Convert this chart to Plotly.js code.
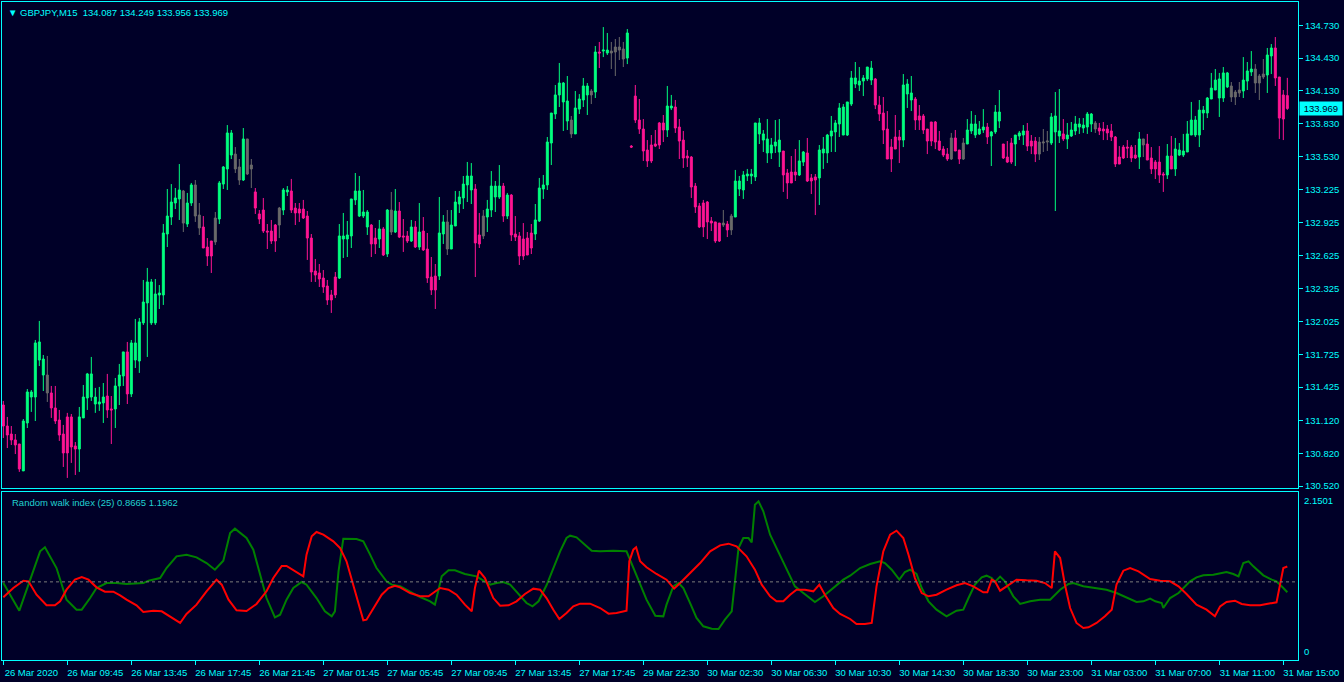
<!DOCTYPE html>
<html><head><meta charset="utf-8">
<script src="https://cdn.plot.ly/plotly-3.0.1.min.js"></script>
<style>html,body{margin:0;padding:0;background:#000028;overflow:hidden}#chart{width:1344px;height:682px}</style>
</head><body><div id="chart"></div>
<script>
const symbolTitle = 'GBPJPY,M15';

const barOpen = [
131.261,131.069,130.996,130.942,130.905,130.659,131.097,131.334,131.334,131.672,
131.535,131.535,131.371,131.234,131.124,130.996,131.152,131.152,130.887,130.859,
131.143,131.325,131.334,131.270,131.270,131.280,131.343,131.225,131.225,131.435,
131.526,131.746,131.362,131.672,131.663,132.011,132.193,132.011,132.011,132.266,
132.266,132.823,132.978,133.106,133.143,133.216,132.914,133.106,133.271,132.996,
132.887,132.704,132.759,132.750,132.960,133.279,133.417,133.544,133.553,133.435,
133.316,133.691,133.417,133.207,133.006,133.042,132.850,132.850,132.905,132.905,
133.042,133.207,133.216,133.060,133.051,133.051,132.987,132.786,132.485,132.467,
132.421,132.348,132.266,132.430,132.421,132.777,132.777,132.805,133.134,132.987,
132.987,132.887,132.905,132.786,132.777,132.869,132.640,133.042,132.841,133.033,
132.805,132.805,132.759,132.887,132.704,132.850,132.686,132.430,132.439,132.439,
132.823,132.933,132.686,132.896,133.097,133.152,133.271,133.225,133.234,132.814,
132.805,132.978,133.042,133.161,133.161,133.261,132.987,133.179,132.823,132.805,
132.777,132.786,132.832,132.823,132.942,133.234,133.271,133.654,133.919,134.093,
134.029,133.855,133.864,133.737,133.964,134.047,134.093,134.129,134.120,134.485,
134.494,134.476,134.494,134.485,134.531,134.513,134.430,133.626,134.083,133.864,
133.782,133.590,133.636,133.645,133.837,133.837,133.773,133.974,133.983,133.800,
133.681,133.535,133.526,133.261,133.079,133.106,133.115,132.942,132.933,132.923,
132.905,132.914,132.860,132.978,133.234,133.225,133.353,133.353,133.344,133.737,
133.681,133.563,133.563,133.626,133.572,133.581,133.380,133.389,133.389,133.362,
133.480,133.563,133.335,133.344,133.335,133.563,133.563,133.718,133.755,133.828,
133.727,133.727,134.010,134.193,134.184,134.220,134.239,134.229,134.239,134.001,
133.928,133.782,133.617,133.709,133.709,133.681,134.102,134.047,134.056,133.901,
133.901,133.782,133.846,133.846,133.672,133.599,133.553,133.508,133.700,133.590,
133.508,133.645,133.764,133.727,133.737,133.773,133.800,133.718,133.755,133.855,
133.645,133.526,133.654,133.645,133.718,133.727,133.764,133.672,133.672,133.553,
133.654,133.663,133.654,133.755,133.718,133.737,133.691,133.718,133.764,133.800,
133.791,133.800,133.828,133.837,133.791,133.782,133.782,133.764,133.709,133.526,
133.617,133.617,133.617,133.544,133.526,133.691,133.645,133.517,133.480,133.480,
133.371,133.362,133.535,133.417,133.544,133.544,133.572,133.727,133.727,133.727,
133.928,133.928,134.056,134.138,134.065,134.065,134.166,134.175,134.074,134.111,
134.129,134.220,134.303,134.330,134.202,134.257,134.275,134.449,134.522,134.257,
134.093,134.087];

const barHigh = [
131.298,131.152,131.069,130.996,130.905,131.133,131.407,131.398,131.855,132.029,
131.718,131.709,131.435,131.435,131.216,131.079,131.189,131.179,130.923,131.243,
131.444,131.554,131.700,131.417,131.426,131.462,131.545,131.343,131.508,131.636,
131.746,131.837,131.855,132.047,132.056,132.403,132.513,132.412,132.412,132.357,
132.914,133.234,133.279,133.243,133.462,133.225,133.198,133.289,133.316,133.106,
132.987,132.786,132.759,133.024,133.307,133.444,133.818,133.773,133.617,133.508,
133.791,133.691,133.508,133.243,133.042,133.152,132.914,132.951,132.914,133.070,
133.243,133.261,133.326,133.106,133.106,133.134,133.033,132.823,132.595,132.549,
132.494,132.403,132.312,132.476,132.914,133.015,132.942,133.143,133.380,133.353,
133.225,133.042,132.914,132.878,132.951,132.887,133.051,133.207,133.234,133.115,
132.960,132.850,132.951,132.942,133.106,132.978,132.832,132.613,132.549,133.161,
132.996,133.042,133.042,133.216,133.216,133.353,133.481,133.471,133.279,133.015,
133.042,133.134,133.398,133.307,133.453,133.289,133.198,133.188,132.987,132.841,
132.923,132.841,132.914,133.097,133.335,133.362,133.709,133.928,134.184,134.385,
134.211,134.266,133.901,134.129,134.101,134.248,134.202,134.147,134.540,134.577,
134.713,134.659,134.577,134.604,134.622,134.577,134.695,133.635,134.184,134.056,
133.873,133.681,133.727,133.773,133.846,133.910,134.175,134.093,134.047,133.873,
133.764,133.590,133.535,133.289,133.106,133.134,133.124,132.978,132.933,132.923,
133.042,132.942,133.006,133.408,133.353,133.398,133.417,133.417,133.837,133.882,
133.773,133.873,133.700,133.864,133.873,133.581,133.417,133.535,133.599,133.681,
133.581,133.700,133.371,133.371,133.636,133.709,133.737,133.901,133.864,134.019,
134.010,134.029,134.312,134.394,134.348,134.275,134.348,134.403,134.248,134.083,
134.074,133.946,133.691,133.910,133.773,134.284,134.238,134.266,134.074,134.001,
133.919,133.782,133.846,133.855,133.764,133.626,133.608,133.746,133.773,133.590,
133.700,133.873,133.946,133.910,133.855,133.964,133.837,133.764,134.001,134.138,
133.645,133.672,133.700,133.727,133.764,133.818,133.837,133.727,133.709,133.709,
133.782,133.764,133.928,134.120,134.147,133.873,133.837,133.846,133.901,133.882,
133.882,133.937,133.928,133.855,133.837,133.846,133.818,133.828,133.718,133.626,
133.636,133.681,133.636,133.636,133.755,133.691,133.737,133.617,133.499,133.626,
133.389,133.645,133.718,133.700,133.654,133.737,133.855,134.029,133.901,134.047,
133.992,134.074,134.294,134.330,134.294,134.348,134.303,134.211,134.138,134.211,
134.439,134.394,134.494,134.375,134.284,134.421,134.522,134.558,134.622,134.257,
134.138,134.249];

const barLow = [
130.960,130.868,130.896,130.813,130.650,130.659,131.051,131.198,131.115,131.617,
131.389,131.289,131.143,131.088,130.933,130.695,130.595,130.732,130.622,130.650,
131.143,131.216,131.298,131.189,131.207,131.097,131.143,130.905,131.051,131.261,
131.435,131.270,131.334,131.599,131.554,131.992,131.700,131.992,131.992,132.138,
132.175,132.704,132.905,133.051,132.951,132.841,132.887,133.079,132.933,132.814,
132.695,132.531,132.467,132.723,132.914,133.234,133.225,133.508,133.380,133.271,
133.307,133.362,133.243,133.006,132.914,132.832,132.686,132.732,132.659,132.786,
132.996,133.170,133.015,132.905,132.933,132.960,132.586,132.385,132.385,132.339,
132.285,132.175,132.102,132.238,132.412,132.604,132.613,132.695,133.088,132.978,
132.969,132.814,132.613,132.640,132.695,132.622,132.613,132.814,132.832,132.786,
132.659,132.741,132.750,132.695,132.677,132.668,132.376,132.266,132.138,132.403,
132.732,132.631,132.686,132.896,133.015,133.051,133.115,133.097,132.430,132.695,
132.777,132.841,132.978,133.024,133.143,132.933,132.960,132.759,132.759,132.540,
132.586,132.631,132.640,132.768,132.933,133.143,133.225,133.453,133.873,133.983,
133.764,133.773,133.700,133.737,133.919,133.983,133.910,134.010,134.065,134.339,
134.439,134.458,134.330,134.266,134.412,134.348,134.375,133.608,133.837,133.737,
133.490,133.435,133.471,133.617,133.599,133.663,133.709,133.955,133.746,133.508,
133.426,133.435,133.152,133.015,132.878,132.795,132.777,132.850,132.741,132.750,
132.887,132.795,132.814,132.978,133.170,133.143,133.307,133.279,133.307,133.645,
133.572,133.471,133.508,133.563,133.435,133.207,133.143,133.289,133.307,133.353,
133.444,133.298,133.188,132.996,133.088,133.417,133.471,133.572,133.572,133.709,
133.727,133.718,133.992,134.156,134.129,134.083,134.220,134.184,133.964,133.855,
133.645,133.508,133.389,133.599,133.471,133.617,133.974,133.946,133.773,133.773,
133.737,133.553,133.626,133.599,133.581,133.526,133.490,133.499,133.581,133.462,
133.499,133.645,133.737,133.700,133.727,133.746,133.645,133.444,133.737,133.791,
133.508,133.471,133.462,133.444,133.681,133.636,133.581,133.553,133.480,133.499,
133.572,133.581,133.636,133.033,133.654,133.672,133.599,133.709,133.727,133.737,
133.746,133.737,133.755,133.746,133.727,133.681,133.681,133.672,133.435,133.462,
133.508,133.517,133.480,133.508,133.417,133.526,133.499,133.371,133.325,133.289,
133.207,133.325,133.417,133.353,133.535,133.526,133.572,133.727,133.709,133.617,
133.773,133.882,134.056,134.138,133.892,134.029,134.156,134.029,134.001,134.074,
134.065,134.138,134.266,134.111,134.047,134.239,134.111,134.284,134.175,133.691,
133.681,133.956];

const barClose = [
131.069,130.987,130.942,130.896,130.677,131.115,131.380,131.380,131.828,131.837,
131.681,131.371,131.234,131.115,130.987,130.823,130.823,130.878,130.859,131.152,
131.334,131.545,131.545,131.334,131.289,131.334,131.216,131.216,131.435,131.535,
131.746,131.362,131.828,131.828,132.020,132.202,132.385,132.385,132.275,132.284,
132.832,132.987,133.115,133.152,133.225,132.923,133.106,133.271,132.987,132.878,
132.695,132.622,132.622,132.969,133.289,133.435,133.746,133.746,133.417,133.316,
133.691,133.371,133.453,133.060,132.960,132.850,132.841,132.759,132.759,133.060,
133.225,133.225,133.042,133.015,133.015,132.969,132.786,132.476,132.448,132.412,
132.339,132.220,132.220,132.266,132.805,132.805,132.814,133.143,133.216,133.216,
133.024,133.024,132.732,132.732,132.869,132.631,133.042,132.841,133.033,132.795,
132.795,132.759,132.887,132.704,132.841,132.677,132.421,132.312,132.312,132.832,
132.933,132.686,132.905,133.115,133.161,133.279,133.353,133.353,132.741,132.732,
132.987,133.051,133.261,133.261,133.261,132.987,133.179,132.814,132.795,132.622,
132.622,132.631,132.695,132.951,133.243,133.271,133.663,133.928,134.093,134.202,
134.202,134.038,133.737,133.974,134.056,134.175,134.175,134.093,134.485,134.476,
134.503,134.503,134.476,134.531,134.503,134.421,134.659,133.617,133.864,133.782,
133.581,133.490,133.490,133.626,133.636,133.773,133.992,133.992,133.791,133.672,
133.517,133.517,133.252,133.070,132.887,132.887,132.933,132.923,132.759,132.759,
132.923,132.860,132.987,133.307,133.307,133.362,133.371,133.371,133.837,133.837,
133.737,133.691,133.636,133.663,133.681,133.362,133.289,133.289,133.362,133.490,
133.572,133.307,133.307,133.316,133.590,133.599,133.727,133.764,133.837,133.974,
133.983,134.029,134.248,134.248,134.220,134.248,134.348,134.339,134.001,133.919,
133.773,133.508,133.508,133.599,133.681,134.184,134.193,134.111,133.864,133.864,
133.773,133.672,133.672,133.663,133.590,133.544,133.508,133.700,133.581,133.508,
133.654,133.773,133.828,133.828,133.782,133.800,133.709,133.755,133.937,133.937,
133.517,133.480,133.480,133.727,133.746,133.764,133.626,133.626,133.553,133.663,
133.663,133.672,133.892,133.901,133.764,133.691,133.727,133.773,133.828,133.828,
133.818,133.919,133.919,133.782,133.764,133.764,133.746,133.709,133.462,133.462,
133.517,133.608,133.517,133.517,133.691,133.636,133.499,133.417,133.417,133.362,
133.362,133.535,133.417,133.599,133.590,133.581,133.737,133.864,133.864,133.955,
133.955,134.065,134.156,134.229,134.239,134.294,134.294,134.074,134.120,134.138,
134.229,134.312,134.330,134.202,134.266,134.284,134.458,134.522,134.248,133.882,
133.873,133.969];

// bars drawn in neutral grey in the reference
const grayBars = [11,45,48,49,53,58,59,61,62,69,97,111,120,142,147,152,153,154,155,180,182,237,240,259,260,261,273,285,307,308,309,313,314,315];

const timeTickBars = [0,16,32,48,64,80,96,112,128,144,160,176,192,208,224,240,256,272,288,304,320];
const timeTickLabels = ['26 Mar 2020','26 Mar 09:45','26 Mar 13:45','26 Mar 17:45','26 Mar 21:45','27 Mar 01:45','27 Mar 05:45','27 Mar 09:45','27 Mar 13:45','27 Mar 17:45','29 Mar 22:30','30 Mar 02:30','30 Mar 06:30','30 Mar 10:30','30 Mar 14:30','30 Mar 18:30','30 Mar 23:00','31 Mar 03:00','31 Mar 07:00','31 Mar 11:00','31 Mar 15:00'];

const priceTicks = [130.520,130.820,131.120,131.425,131.725,132.025,132.325,132.625,132.925,133.225,133.530,133.830,134.130,134.430,134.730];

const rwiPeriod = 25;
const rwiMax = 2.1501;
const rwiLevel = 1.0;

const rwiHighBars = [
0,4,9.2,10.4,13.3,15.8,18.3,19.6,21.7,23.3,
25.8,28.3,30.8,35,36.3,39.2,40.8,43.3,45.8,48.3,
50.8,52.9,55,56.7,57.9,60.8,62.5,64.2,65.8,67.9,
69.2,70.8,72.5,74.6,75.8,78.3,80.4,82.1,82.9,83.8,
85,88.3,90,91.7,93.3,95.8,97.1,99.2,104.2,106.7,
107.9,109.6,111.3,112.9,115.4,118.3,120,121.7,123.3,125,
126.7,128.8,130.8,132.3,133.8,135.8,137.5,139.2,140.8,141.7,
143.3,145,147.1,149.2,152.5,155.8,157.5,159.2,160.8,163,
165,165.8,167.5,168.8,170,171.7,173.3,175,177.1,178.8,
180.4,182.1,182.9,183.8,185,186.3,187.1,187.9,188.8,190,
191.7,193.3,195.8,197.9,200,202.9,205,207.5,210,211.7,
214.2,216.7,219.2,220.4,222.1,224,225.4,226.7,228.3,229.6,
231.3,233.3,235.8,238.3,240,241.3,242.9,244.6,245.8,247.1,
247.9,249.2,250.4,252.5,254.2,256.7,259.2,261.7,264.2,266.3,
267.5,270,273.3,275.8,278.3,280.8,283.3,285,286.7,288,
289.6,290,291.7,293.8,295,296.7,298.3,300,302.5,305.8,
307.5,308.8,310,311.3,312.5,315,317.1,318.3,320,321];
const rwiHighValues = [
0.985,0.631,1.391,1.442,1.177,0.772,0.644,0.644,0.793,0.921,
0.985,0.985,0.973,0.985,1.015,1.049,1.177,1.327,1.348,1.314,
1.241,1.156,1.271,1.625,1.681,1.561,1.412,1.092,0.793,0.546,
0.580,0.772,0.921,0.998,0.964,0.793,0.623,0.559,0.623,1.135,
1.553,1.549,1.519,1.348,1.177,1.007,0.964,0.943,0.806,0.751,
0.708,1.071,1.148,1.148,1.101,1.071,1.015,0.964,0.985,0.998,
0.964,0.845,0.729,0.687,0.751,0.956,1.177,1.391,1.561,1.591,
1.570,1.497,1.399,1.391,1.399,1.391,1.177,0.964,0.772,0.567,
0.559,0.708,0.943,0.985,0.921,0.729,0.538,0.431,0.401,0.397,
0.516,0.623,1.049,1.433,1.561,1.561,1.506,1.988,2.031,1.903,
1.604,1.433,1.177,0.943,0.857,0.742,0.815,0.921,1.028,1.079,
1.177,1.229,1.263,1.241,1.156,1.028,1.126,1.156,1.101,0.921,
0.751,0.644,0.559,0.631,0.644,0.793,0.964,1.058,1.079,1.049,
0.998,1.067,1.007,0.815,0.717,0.751,0.772,0.772,0.900,0.973,
0.985,0.943,0.921,0.900,0.857,0.802,0.742,0.751,0.785,0.751,
0.729,0.665,0.793,0.857,0.921,1.007,1.058,1.084,1.092,1.126,
1.101,1.071,1.241,1.263,1.199,1.084,1.028,1.007,0.921,0.8665];

const rwiLowBars = [
0,2.5,5,6.3,8.3,10.8,12.9,14.2,15.8,17.9,
19.6,21.3,23.3,25.4,27.5,29.2,30.8,33.3,35,37.5,
39.6,41.7,44.2,45.8,48.3,50.8,53.3,54.6,56.3,58.3,
60.8,63.3,65.8,67.5,69.6,70.8,72.9,75,75.8,77.1,
78.3,80,82.5,84.2,85.8,87.5,88.8,90,90.8,92.5,
94.6,96.3,97.9,99.2,101.7,104.2,106.3,109.2,111.3,113.3,
115.4,117.1,117.9,118.9,120.4,122.5,124.2,126.3,128.3,130.4,
132.5,134.2,135.8,137.5,139,140.8,142.5,144.2,146.7,149.2,
151.3,153.3,155.8,156.5,157.5,158.2,159.2,160.8,163.3,165.8,
167.7,169.2,171.7,174.2,176.7,179.2,181.3,183.3,185.8,187.9,
189.6,191.7,193.3,195,196.7,198.3,200.4,202.5,204,205.4,
207.5,209.2,211.7,213.3,215.4,217.1,218.3,220,221.7,223.3,
225,226.3,227.9,229.6,231.3,233.3,235.8,238.3,240.4,242.5,
245,246,247.1,247.9,249.2,250.8,253.3,255.8,258.3,260.4,
262.1,262.9,264.2,265.4,266.7,268.3,270,271.3,273.3,275.4,
277.1,278.3,280,281.7,283.8,286.7,289.2,291.7,293.8,295.8,
298.3,300.8,302.9,304.2,305.8,307.9,309.6,311.7,314.2,315.8,
318.3,320,321];
const rwiLowValues = [
0.802,0.921,1.015,1.007,0.836,0.700,0.700,0.751,0.900,1.028,
1.062,1.028,0.930,0.875,0.875,0.828,0.772,0.700,0.614,0.631,
0.623,0.559,0.474,0.589,0.708,0.879,1.028,0.964,0.772,0.636,
0.627,0.717,0.879,1.049,1.203,1.203,1.135,1.071,1.348,1.583,
1.638,1.604,1.519,1.433,1.263,0.964,0.708,0.508,0.516,0.665,
0.836,0.921,0.951,0.930,0.857,0.815,0.815,0.921,0.900,0.836,
0.708,0.623,0.921,1.143,1.049,0.793,0.695,0.700,0.751,0.845,
0.913,0.900,0.793,0.644,0.525,0.602,0.687,0.721,0.721,0.665,
0.593,0.602,0.631,1.263,1.412,1.442,1.263,1.186,1.101,1.028,
0.913,0.985,1.113,1.241,1.391,1.467,1.489,1.455,1.327,1.156,
0.964,0.815,0.751,0.751,0.836,0.900,0.900,0.879,0.964,0.836,
0.665,0.589,0.525,0.461,0.461,0.474,0.943,1.391,1.604,1.655,
1.561,1.348,1.049,0.857,0.815,0.836,0.900,0.956,0.985,0.943,
0.866,0.866,1.028,1.007,0.887,0.943,1.028,1.020,1.015,0.985,
0.921,1.391,1.305,0.964,0.665,0.474,0.410,0.418,0.474,0.559,
0.644,0.964,1.143,1.177,1.135,1.037,1.015,1.007,0.943,0.845,
0.708,0.644,0.559,0.687,0.742,0.759,0.717,0.700,0.700,0.717,
0.738,1.177,1.1962];

// ---------- build ----------
const BG = '#000028', CYAN = '#00FFFF', BULL = '#00FF7F', BEAR = '#FF1493', GREY = '#6A6A6A';
const FONT = 'Liberation Sans, DejaVu Sans, Arial, sans-serif';
const graySet = new Set(grayBars);
function pick(arr, keep){ const out=[]; arr.forEach((v,i)=>{ if(keep(i)) out.push(v); }); return out; }
const idx = barClose.map((_,i)=>i);
const isCol = i=>!graySet.has(i), isGray = i=>graySet.has(i);

const candleMain = {
  type:'candlestick', xaxis:'x', yaxis:'y',
  x:pick(idx,isCol), open:pick(barOpen,isCol), high:pick(barHigh,isCol), low:pick(barLow,isCol), close:pick(barClose,isCol),
  increasing:{line:{color:BULL,width:1}, fillcolor:BULL},
  decreasing:{line:{color:BEAR,width:1}, fillcolor:BEAR},
  whiskerwidth:0, hoverinfo:'skip'
};
const candleGray = {
  type:'candlestick', xaxis:'x', yaxis:'y',
  x:pick(idx,isGray), open:pick(barOpen,isGray), high:pick(barHigh,isGray), low:pick(barLow,isGray), close:pick(barClose,isGray),
  increasing:{line:{color:GREY,width:1}, fillcolor:GREY},
  decreasing:{line:{color:GREY,width:1}, fillcolor:GREY},
  whiskerwidth:0, hoverinfo:'skip'
};
const rwiHighTrace = {type:'scatter', mode:'lines', xaxis:'x2', yaxis:'y2', x:rwiHighBars, y:rwiHighValues,
  line:{color:'#008000', width:2}, hoverinfo:'skip'};
const rwiLowTrace = {type:'scatter', mode:'lines', xaxis:'x2', yaxis:'y2', x:rwiLowBars, y:rwiLowValues,
  line:{color:'#FF0000', width:2}, hoverinfo:'skip'};

const last = barClose.length - 1;
const xr = [-0.33, 323.67];
const plotH = 682 - 2 - 22;
const mainBottom = (660 - 488) / plotH;
const subTop = (660 - 492) / plotH;

const layout = {
  width:1344, height:682, margin:{l:2, r:46, t:2, b:22},
  paper_bgcolor:BG, plot_bgcolor:BG, showlegend:false,
  font:{family:FONT, size:9.5, color:CYAN},
  xaxis:{anchor:'y', domain:[0,1], range:xr, showline:true, mirror:true, linecolor:CYAN, linewidth:1,
    showgrid:false, zeroline:false, showticklabels:false, ticks:'', rangeslider:{visible:false}},
  xaxis2:{anchor:'y2', domain:[0,1], range:xr, matches:'x', showline:true, mirror:true, linecolor:CYAN, linewidth:1,
    showgrid:false, zeroline:false, tickmode:'array', tickvals:timeTickBars, ticktext:timeTickLabels,
    ticks:'outside', ticklen:4, tickcolor:CYAN, tickwidth:1, ticklabelshift:28,
    tickfont:{family:FONT, size:9.5, color:CYAN}},
  yaxis:{domain:[mainBottom,1], range:[130.503,134.942], side:'right', showline:true, mirror:true, linecolor:CYAN, linewidth:1,
    showgrid:false, zeroline:false, tickmode:'array', tickvals:priceTicks, ticktext:priceTicks.map(v=>v.toFixed(3)),
    ticks:'outside', ticklen:4, tickcolor:CYAN, tickwidth:1, tickfont:{family:FONT, size:9.5, color:CYAN}},
  yaxis2:{domain:[0,subTop], range:[0,rwiMax], side:'right', showline:true, mirror:true, linecolor:CYAN, linewidth:1,
    showgrid:false, zeroline:false, showticklabels:false, ticks:''},
  shapes:[{type:'line', xref:'x2 domain', x0:0, x1:1, yref:'y2', y0:rwiLevel, y1:rwiLevel,
    line:{color:'#7A7A7A', width:1, dash:'3px,3px'}}],
  annotations:[
    {xref:'paper', yref:'paper', x:0, y:1, xanchor:'left', yanchor:'top', xshift:4, yshift:-3, showarrow:false,
      text:'\u25BC ' + symbolTitle + '\u00a0\u00a0' + [barOpen[last],barHigh[last],barLow[last],barClose[last]].map(v=>v.toFixed(3)).join(' '),
      font:{family:FONT, size:9.5, color:CYAN}},
    {xref:'paper', yref:'paper', x:0, y:subTop, xanchor:'left', yanchor:'top', xshift:8, yshift:-3, showarrow:false,
      text:'Random walk index (' + rwiPeriod + ') ' + rwiHighValues[rwiHighValues.length-1].toFixed(4) + ' ' + rwiLowValues[rwiLowValues.length-1].toFixed(4),
      font:{family:FONT, size:9.5, color:'#20D0D0'}},
    {xref:'paper', yref:'y', x:1, y:barClose[last], xanchor:'left', yanchor:'middle', xshift:1, showarrow:false,
      text:'\u00a0' + barClose[last].toFixed(3) + '\u00a0', bgcolor:CYAN, borderpad:1, font:{family:FONT, size:9.5, color:BG}},
    {xref:'paper', yref:'paper', x:1, y:subTop, xanchor:'left', yanchor:'top', xshift:4, yshift:-1, showarrow:false,
      text:String(rwiMax), font:{family:FONT, size:9.5, color:CYAN}},
    {xref:'paper', yref:'paper', x:1, y:0, xanchor:'left', yanchor:'bottom', xshift:4, yshift:1, showarrow:false,
      text:'0', font:{family:FONT, size:9.5, color:CYAN}}
  ]
};

Plotly.newPlot('chart', [candleMain, candleGray, rwiHighTrace, rwiLowTrace], layout, {staticPlot:true, displayModeBar:false});
</script>
</body></html>
